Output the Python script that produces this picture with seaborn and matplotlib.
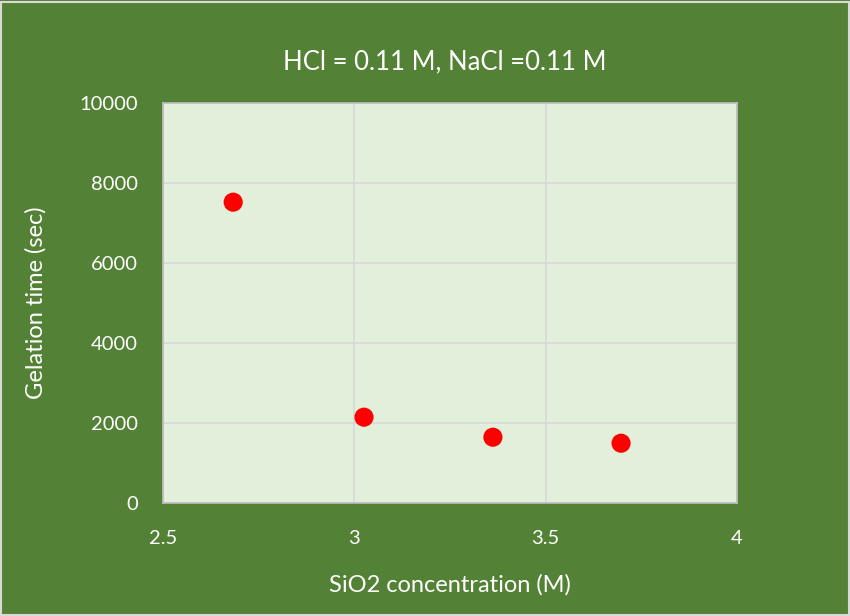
import matplotlib
matplotlib.use("Agg")
import matplotlib.pyplot as plt
import seaborn as sns
import pandas as pd

# values
sio2_conc = [2.683, 3.025, 3.362, 3.697]
gel_time = [7520, 2150, 1650, 1500]
x_ticks = [2.5, 3, 3.5, 4]
x_tick_labels = ["2.5", "3", "3.5", "4"]
y_ticks = [0, 2000, 4000, 6000, 8000, 10000]

df = pd.DataFrame({"SiO2": sio2_conc, "Gelation": gel_time})

sns.set_style("white")
plt.rcParams["font.family"] = ["Lato", "DejaVu Sans"]

bg = "#538135"
fig = plt.figure(figsize=(8.5, 6.16), dpi=100, facecolor=bg)
ax = fig.add_axes([0.192, 0.183, 0.675, 0.650])
ax.set_facecolor("#E2EFDA")

sns.scatterplot(data=df, x="SiO2", y="Gelation", ax=ax, color="#FF0000",
                s=190, edgecolor="none", zorder=3)

ax.set_xlim(2.5, 4)
ax.set_ylim(0, 10000)
ax.set_xticks(x_ticks)
ax.set_xticklabels(x_tick_labels)
ax.set_yticks(y_ticks)
ax.grid(True, color="#D9D9D9", linewidth=1.2)
ax.set_axisbelow(True)
for sp in ax.spines.values():
    sp.set_color("#BFBFBF")
    sp.set_linewidth(1.2)

ax.tick_params(axis="both", colors="white", labelsize=14.5, length=0)
ax.tick_params(axis="x", pad=19)
ax.tick_params(axis="y", pad=18)

ax.set_xlabel("SiO2 concentration (M)", color="white", fontsize=17, labelpad=20)
ax.set_ylabel("Gelation time (sec)", color="white", fontsize=17, labelpad=24)
fig.text(0.523, 0.899, "HCl = 0.11 M, NaCl =0.11 M", color="white",
         fontsize=18.5, ha="center", va="center")

# thin light frame around the whole chart
fig.patches.append(plt.Rectangle((0.001, 0.001), 0.998, 0.996, transform=fig.transFigure,
                                 fill=False, edgecolor="#D9D9D9", linewidth=1.5))

fig.savefig("out.png", dpi=100, facecolor=bg)
